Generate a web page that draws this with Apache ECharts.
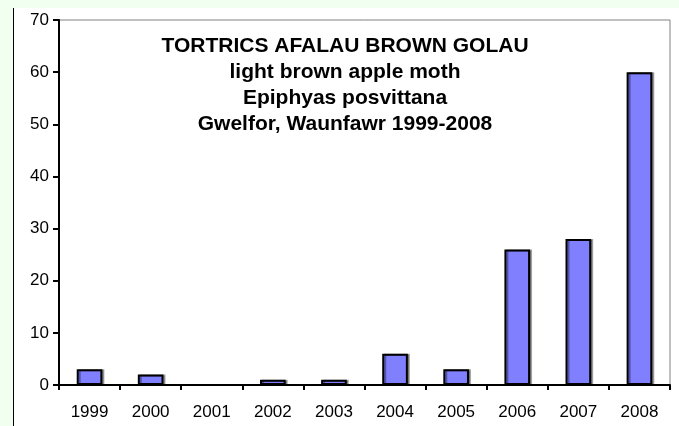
<!DOCTYPE html>
<html>
<head>
<meta charset="utf-8">
<script src="https://cdn.jsdelivr.net/npm/echarts@6/dist/echarts.min.js"></script>
<style>
html,body{margin:0;padding:0;width:679px;height:426px;background:#f0fff0;overflow:hidden;}
#box{position:absolute;left:13px;top:8px;width:665px;height:418px;background:#fff;border-left:1px solid #000;}
#chart{width:665px;height:418px;}
</style>
</head>
<body>
<div id="box"><div id="chart"></div></div>
<script>
const years = ['1999','2000','2001','2002','2003','2004','2005','2006','2007','2008'];
const counts = [3, 2, 0, 1, 1, 6, 3, 26, 28, 60];
const titleLines = ['TORTRICS AFALAU BROWN GOLAU','light brown apple moth','Epiphyas posvittana','Gwelfor, Waunfawr 1999-2008'];

const chart = echarts.init(document.getElementById('chart'));
chart.setOption({
  animation: false,
  title: {
    text: titleLines.join('\n'),
    left: 326,
    top: 20,
    textAlign: 'center',
    textStyle: {fontFamily: 'Liberation Sans, Arial', fontWeight: 'bold', fontSize: 21, lineHeight: 26, color: '#000'}
  },
  grid: {left: 45, top: 12, right: 9, bottom: 41, show: true, borderColor: '#808080', borderWidth: 1, backgroundColor: '#fff'},
  xAxis: {
    type: 'category', data: years,
    axisLine: {lineStyle: {color: '#000', width: 2}},
    axisTick: {show: true, length: 5, lineStyle: {color: '#000', width: 2}},
    axisLabel: {color: '#000', fontSize: 17, fontFamily: 'Liberation Sans, Arial', margin: 19}
  },
  yAxis: {
    type: 'value', min: 0, max: 70, interval: 10,
    splitLine: {show: false},
    axisLine: {show: true, lineStyle: {color: '#000', width: 2}},
    axisTick: {show: true, length: 6, lineStyle: {color: '#000', width: 2}},
    axisLabel: {color: '#000', fontSize: 17, fontFamily: 'Liberation Sans, Arial', margin: 10}
  },
  series: [{
    type: 'bar', data: counts, barWidth: '42%',
    itemStyle: {color: '#8080ff', borderColor: '#000', borderWidth: 2,
      shadowColor: 'rgba(0,0,0,0.35)', shadowOffsetX: 2, shadowOffsetY: 0, shadowBlur: 0}
  }]
});
</script>
</body>
</html>
